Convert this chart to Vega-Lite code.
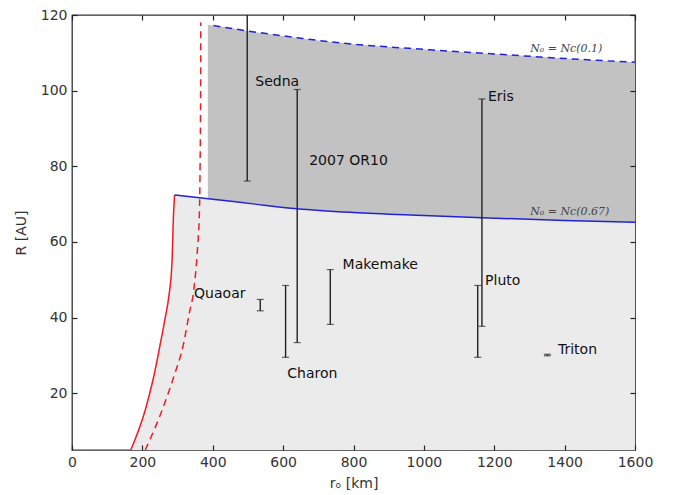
{
  "$schema": "https://vega.github.io/schema/vega-lite/v6.json",
  "width": 563,
  "height": 435,
  "autosize": "none",
  "padding": {"left": 72, "top": 15, "right": 38, "bottom": 45},
  "background": "white",
  "config": {
    "view": {"stroke": "#333", "strokeWidth": 1.3},
    "axis": {
      "labelFont": "DejaVu Sans", "labelFontSize": 14, "labelColor": "#333", "labelFlush": false, "format": "d",
      "titleFont": "DejaVu Sans", "titleFontSize": 14, "titleColor": "#333", "titleFontWeight": "normal",
      "domain": false, "grid": false
    }
  },
  "datasets": {
    "light": [
      {"r": 167, "R": 5}, {"r": 208, "R": 15.5}, {"r": 232, "R": 24.3}, {"r": 251, "R": 33.1},
      {"r": 265, "R": 40}, {"r": 275, "R": 45.5}, {"r": 284, "R": 54.3}, {"r": 288.6, "R": 67.5},
      {"r": 291.5, "R": 72.4}, {"r": 400, "R": 71.3}, {"r": 520, "R": 70}, {"r": 640, "R": 68.8},
      {"r": 800, "R": 67.8}, {"r": 1000, "R": 67}, {"r": 1165, "R": 66.4}, {"r": 1400, "R": 65.7}, {"r": 1600, "R": 65.2}
    ],
    "dark": [
      {"r": 386, "top": 117.4, "bot": 71.45}, {"r": 402, "top": 117.2, "bot": 71.3},
      {"r": 498, "top": 115.8, "bot": 70.2}, {"r": 640, "top": 114, "bot": 68.8},
      {"r": 734, "top": 112.9, "bot": 68.2}, {"r": 1018, "top": 110.8, "bot": 66.9},
      {"r": 1200, "top": 109.7, "bot": 66.3}, {"r": 1400, "top": 108.5, "bot": 65.7},
      {"r": 1600, "top": 107.5, "bot": 65.2}
    ],
    "redSolid": [
      {"r": 167, "R": 5}, {"r": 208, "R": 15.5}, {"r": 232, "R": 24.3}, {"r": 251, "R": 33.1},
      {"r": 265, "R": 40}, {"r": 275, "R": 45.5}, {"r": 284, "R": 54.3}, {"r": 288.6, "R": 67.5},
      {"r": 291.5, "R": 72.4}
    ],
    "redDash": [
      {"r": 208, "R": 5}, {"r": 256, "R": 15.5}, {"r": 289, "R": 24.3}, {"r": 317, "R": 33.1},
      {"r": 333, "R": 41}, {"r": 346, "R": 47.2}, {"r": 357, "R": 58.7}, {"r": 362, "R": 67.5},
      {"r": 364, "R": 80}, {"r": 365.5, "R": 100}, {"r": 366, "R": 118}
    ],
    "blueSolid": [
      {"r": 291.5, "R": 72.4}, {"r": 400, "R": 71.3}, {"r": 520, "R": 70}, {"r": 640, "R": 68.8},
      {"r": 800, "R": 67.8}, {"r": 1000, "R": 67}, {"r": 1165, "R": 66.4}, {"r": 1400, "R": 65.7}, {"r": 1600, "R": 65.2}
    ],
    "blueDash": [
      {"r": 402, "R": 117.2}, {"r": 498, "R": 115.8}, {"r": 640, "R": 114}, {"r": 734, "R": 112.9},
      {"r": 1018, "R": 110.8}, {"r": 1200, "R": 109.7}, {"r": 1400, "R": 108.5}, {"r": 1600, "R": 107.5}
    ],
    "bars": [
      {"name": "Sedna", "r": 498, "lo": 76.1, "hi": 130},
      {"name": "2007 OR10", "r": 640, "lo": 33.4, "hi": 100.3},
      {"name": "Quaoar", "r": 535, "lo": 41.8, "hi": 44.8},
      {"name": "Charon", "r": 607, "lo": 29.5, "hi": 48.5},
      {"name": "Makemake", "r": 734, "lo": 38.2, "hi": 52.7},
      {"name": "Eris", "r": 1165, "lo": 37.7, "hi": 97.8},
      {"name": "Pluto", "r": 1153, "lo": 29.5, "hi": 48.5},
      {"name": "Triton", "r": 1351, "lo": 29.9, "hi": 30.3}
    ],
    "labels": [
      {"name": "Sedna", "r": 521, "R": 102.4},
      {"name": "2007 OR10", "r": 674, "R": 81.4},
      {"name": "Eris", "r": 1182, "R": 98.4},
      {"name": "Quaoar", "r": 347, "R": 46.2},
      {"name": "Charon", "r": 612, "R": 25.1},
      {"name": "Makemake", "r": 769, "R": 54},
      {"name": "Pluto", "r": 1174, "R": 49.7},
      {"name": "Triton", "r": 1381, "R": 31.5}
    ],
    "nlabels": [
      {"text": "N₀ = Nc(0.1)", "r": 1302, "R": 110.9},
      {"text": "N₀ = Nc(0.67)", "r": 1302, "R": 67.8}
    ]
  },
  "layer": [
    {
      "data": {"name": "light"},
      "mark": {"type": "area", "color": "#ebebeb", "interpolate": "monotone", "clip": true},
      "encoding": {
        "x": {"field": "r", "type": "quantitative", "scale": {"domain": [0, 1600], "nice": false, "zero": false},
              "axis": {"orient": "bottom", "values": [0, 200, 400, 600, 800, 1000, 1200, 1400, 1600], "title": "rₒ [km]", "titlePadding": 7,
                       "ticks": true, "tickSize": 5, "tickColor": "#222", "tickWidth": 1.2, "offset": -5, "labelPadding": 5, "zindex": 2}},
        "y": {"field": "R", "type": "quantitative", "scale": {"domain": [5, 120], "nice": false, "zero": false},
              "axis": {"orient": "left", "values": [20, 40, 60, 80, 100, 120], "title": "R [AU]", "titlePadding": 12,
                       "ticks": true, "tickSize": 5, "tickColor": "#222", "tickWidth": 1.2, "offset": -5, "labelPadding": 5, "zindex": 2}},
        "y2": {"datum": 5}
      }
    },
    {
      "data": {"name": "dark"},
      "mark": {"type": "area", "color": "#c2c2c2", "interpolate": "monotone", "clip": true},
      "encoding": {
        "x": {"field": "r", "type": "quantitative", "scale": {"domain": [0, 1600], "nice": false, "zero": false},
              "axis": {"orient": "top", "values": [0, 200, 400, 600, 800, 1000, 1200, 1400, 1600], "labels": false, "title": null,
                       "ticks": true, "tickSize": 5, "tickColor": "#222", "tickWidth": 1.2, "offset": -5, "zindex": 2}},
        "y": {"field": "top", "type": "quantitative", "scale": {"domain": [5, 120], "nice": false, "zero": false},
              "axis": {"orient": "right", "values": [20, 40, 60, 80, 100, 120], "labels": false, "title": null,
                       "ticks": true, "tickSize": 5, "tickColor": "#222", "tickWidth": 1.2, "offset": -5, "zindex": 2}},
        "y2": {"field": "bot"}
      }
    },
    {
      "data": {"name": "redSolid"},
      "mark": {"type": "line", "color": "#ee1c25", "strokeWidth": 1.5, "interpolate": "monotone", "clip": true},
      "encoding": {
        "x": {"field": "r", "type": "quantitative", "axis": null},
        "y": {"field": "R", "type": "quantitative", "axis": null}
      }
    },
    {
      "data": {"name": "redDash"},
      "mark": {"type": "line", "color": "#ee1c25", "strokeWidth": 1.5, "strokeDash": [7, 5], "interpolate": "monotone", "clip": true},
      "encoding": {
        "x": {"field": "r", "type": "quantitative", "axis": null},
        "y": {"field": "R", "type": "quantitative", "axis": null}
      }
    },
    {
      "data": {"name": "blueSolid"},
      "mark": {"type": "line", "color": "#2222dd", "strokeWidth": 1.5, "interpolate": "monotone", "clip": true},
      "encoding": {
        "x": {"field": "r", "type": "quantitative", "axis": null},
        "y": {"field": "R", "type": "quantitative", "axis": null}
      }
    },
    {
      "data": {"name": "blueDash"},
      "mark": {"type": "line", "color": "#2222dd", "strokeWidth": 1.5, "strokeDash": [7, 5], "interpolate": "monotone", "clip": true},
      "encoding": {
        "x": {"field": "r", "type": "quantitative", "axis": null},
        "y": {"field": "R", "type": "quantitative", "axis": null}
      }
    },
    {
      "data": {"name": "bars"},
      "mark": {"type": "rule", "color": "#222", "strokeWidth": 1.4, "clip": true},
      "encoding": {
        "x": {"field": "r", "type": "quantitative", "axis": null},
        "y": {"field": "lo", "type": "quantitative", "axis": null},
        "y2": {"field": "hi"}
      }
    },
    {
      "data": {"name": "bars"},
      "mark": {"type": "tick", "orient": "horizontal", "color": "#222", "size": 7, "thickness": 1.2, "clip": true},
      "encoding": {
        "x": {"field": "r", "type": "quantitative", "axis": null},
        "y": {"field": "lo", "type": "quantitative", "axis": null}
      }
    },
    {
      "data": {"name": "bars"},
      "mark": {"type": "tick", "orient": "horizontal", "color": "#222", "size": 7, "thickness": 1.2, "clip": true},
      "encoding": {
        "x": {"field": "r", "type": "quantitative", "axis": null},
        "y": {"field": "hi", "type": "quantitative", "axis": null}
      }
    },
    {
      "data": {"name": "labels"},
      "mark": {"type": "text", "align": "left", "baseline": "middle", "font": "DejaVu Sans", "fontSize": 14, "color": "#111"},
      "encoding": {
        "x": {"field": "r", "type": "quantitative", "axis": null},
        "y": {"field": "R", "type": "quantitative", "axis": null},
        "text": {"field": "name"}
      }
    },
    {
      "data": {"name": "nlabels"},
      "mark": {"type": "text", "align": "left", "baseline": "middle", "font": "DejaVu Serif", "fontStyle": "italic", "fontSize": 11, "color": "#444"},
      "encoding": {
        "x": {"field": "r", "type": "quantitative", "axis": null},
        "y": {"field": "R", "type": "quantitative", "axis": null},
        "text": {"field": "text"}
      }
    }
  ],
  "resolve": {"axis": {"x": "independent", "y": "independent"}}
}
